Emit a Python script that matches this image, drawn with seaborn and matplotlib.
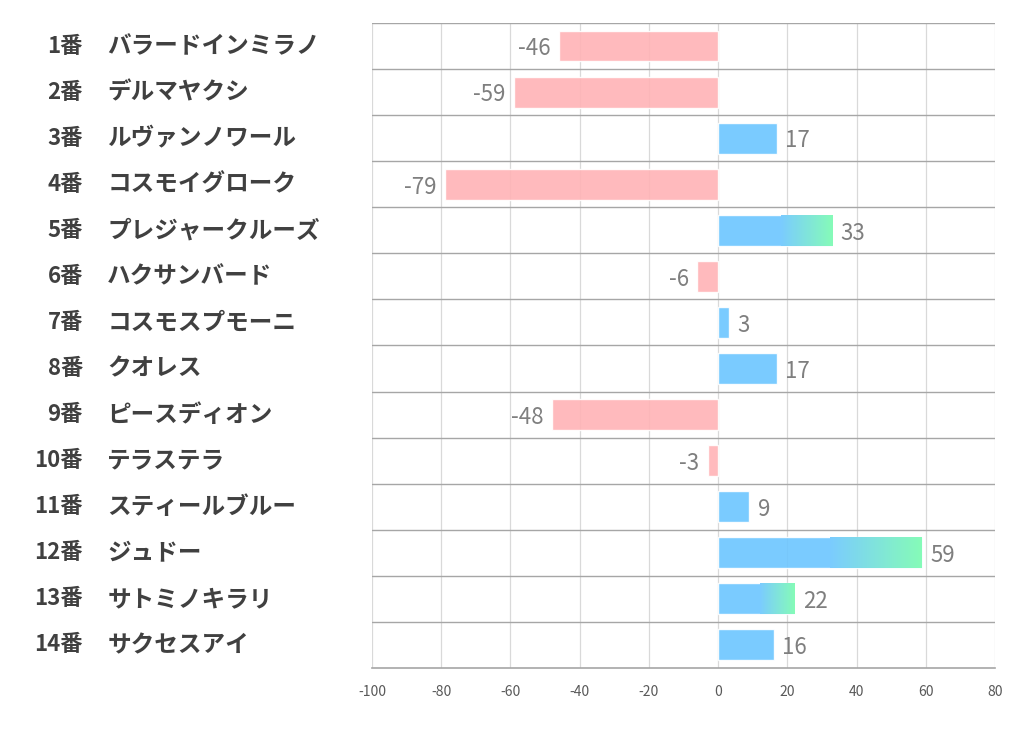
import numpy as np
import pandas as pd
import seaborn as sns
import matplotlib.pyplot as plt
from matplotlib.colors import LinearSegmentedColormap, to_rgb
from matplotlib.transforms import blended_transform_factory

numbers = ['1番', '2番', '3番', '4番', '5番', '6番', '7番', '8番', '9番', '10番', '11番', '12番', '13番', '14番']
names = ['バラードインミラノ', 'デルマヤクシ', 'ルヴァンノワール', 'コスモイグローク', 'プレジャークルーズ',
         'ハクサンバード', 'コスモスプモーニ', 'クオレス', 'ピースディオン', 'テラステラ',
         'スティールブルー', 'ジュドー', 'サトミノキラリ', 'サクセスアイ']
values = [-46, -59, 17, -79, 33, -6, 3, 17, -48, -3, 9, 59, 22, 16]
xticks = [-100, -80, -60, -40, -20, 0, 20, 40, 60, 80]

pink = '#FFB3B6'
blue = '#6CC6FF'
green = '#78FBB0'
bar_alpha = 0.9

sns.set_style('white')
plt.rcParams['font.family'] = ['Noto Sans CJK JP', 'DejaVu Sans']

df = pd.DataFrame({'name': names, 'value': values})
df['sign'] = np.where(df['value'] < 0, 'neg', 'pos')

fig = plt.figure(figsize=(10.22, 7.30), dpi=100)
ax = fig.add_axes([0.364, 0.085, 0.6096, 0.8835])

sns.barplot(data=df, x='value', y='name', hue='sign', palette={'neg': pink, 'pos': blue},
            orient='h', width=0.67, dodge=False, legend=False, ax=ax, alpha=bar_alpha,
            saturation=1, zorder=2)

ax.set_xlim(-100, 80)
ax.set_ylim(len(names) - 0.5, -0.5)
ax.set_xticks(xticks)
ax.set_xticklabels([str(t) for t in xticks], color='#595959', fontsize=10)
ax.tick_params(axis='x', length=0, pad=12)
ax.set_yticks([])
ax.set_xlabel('')
ax.set_ylabel('')
for s in ['top', 'right', 'left']:
    ax.spines[s].set_visible(False)
ax.spines['bottom'].set_color('#A6A6A6')
ax.spines['bottom'].set_linewidth(1.2)

# grid
for t in xticks:
    ax.axvline(t, color='#D9D9D9', lw=0.9, zorder=0)
for b in np.arange(-0.5, len(names) - 0.5, 1.0):
    ax.axhline(b, color='#A6A6A6', lw=1.0, zorder=1)


def on_white(c):
    rgb = np.array(to_rgb(c))
    return tuple(bar_alpha * rgb + (1 - bar_alpha))


# gradient ends on the longer positive bars
cmap = LinearSegmentedColormap.from_list('bg', [on_white(blue), on_white(green)])
grad = np.linspace(0, 1, 256).reshape(1, -1)
for patch in ax.patches:
    w = patch.get_width()
    if w > 20:
        x0 = patch.get_x()
        y0 = patch.get_y()
        h = patch.get_height()
        start = x0 + w * 0.55
        im = ax.imshow(grad, cmap=cmap, aspect='auto', extent=[start, x0 + w, y0 + h, y0],
                       zorder=3, interpolation='bilinear')
        im.set_clip_path(patch)
ax.set_xlim(-100, 80)
ax.set_ylim(len(names) - 0.5, -0.5)

# value labels
for i, v in enumerate(values):
    if v < 0:
        ax.annotate(str(v), (v, i), xytext=(-6, -2), textcoords='offset points',
                    ha='right', va='center', fontsize=16, color='#7F7F7F')
    else:
        ax.annotate(str(v), (v, i), xytext=(6, -2), textcoords='offset points',
                    ha='left', va='center', fontsize=16, color='#7F7F7F')

# row labels
trans = blended_transform_factory(fig.transFigure, ax.transData)
for i, (n, nm) in enumerate(zip(numbers, names)):
    ax.text(0.081, i, n, transform=trans, ha='right', va='center', fontsize=16,
            fontweight='bold', color='#404040', clip_on=False)
    ax.text(0.105, i, nm, transform=trans, ha='left', va='center', fontsize=17,
            fontweight='bold', color='#404040', clip_on=False)

fig.savefig('out.png', dpi=100)
